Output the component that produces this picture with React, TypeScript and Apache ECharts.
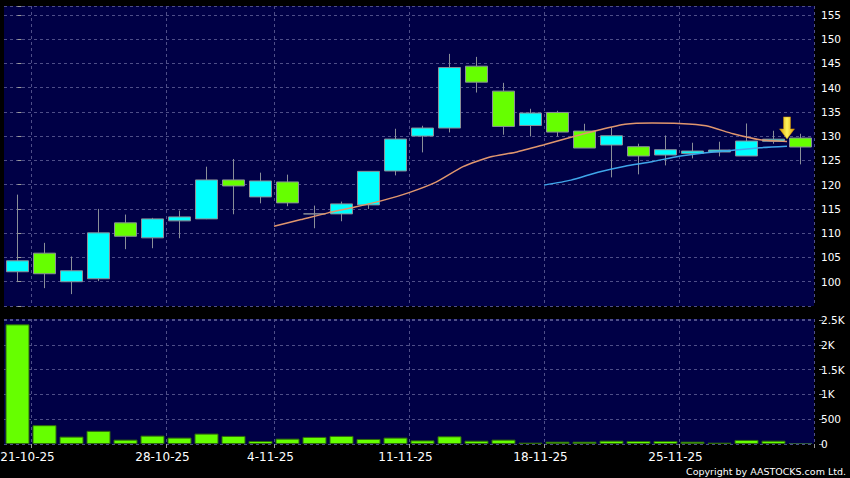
import React, { useEffect, useRef } from "react";
import * as echarts from "echarts";

const dates = [
  "20-10-25", "21-10-25", "22-10-25", "23-10-25", "24-10-25",
  "27-10-25", "28-10-25", "30-10-25", "31-10-25", "3-11-25",
  "4-11-25", "5-11-25", "6-11-25", "7-11-25", "10-11-25",
  "11-11-25", "12-11-25", "13-11-25", "14-11-25", "17-11-25",
  "18-11-25", "19-11-25", "20-11-25", "21-11-25", "24-11-25",
  "25-11-25", "26-11-25", "27-11-25", "28-11-25", "1-12-25",
];
const labeledDates = ["21-10-25", "28-10-25", "4-11-25", "11-11-25", "18-11-25", "25-11-25"];

const opens = [102.06, 105.89, 100.0, 100.62, 112.14, 109.05, 112.55, 112.96, 120.99, 117.49,
  120.58, 113.99, 113.99, 115.84, 122.84, 130.04, 131.69, 144.44, 139.3, 132.22,
  134.9, 131.07, 128.19, 127.84, 126.13, 126.46, 126.75, 125.93, 128.95, 129.63];
const closes = [104.32, 101.65, 102.26, 110.08, 109.38, 112.96, 113.37, 120.99, 119.75, 120.78,
  116.26, 113.99, 116.05, 122.76, 129.42, 131.69, 144.16, 141.15, 132.02, 134.77,
  130.86, 127.57, 130.1, 125.93, 127.22, 126.95, 127.16, 129.01, 129.4, 127.78];
const lows = [99.92, 98.68, 97.45, 100.12, 106.71, 106.91, 108.97, 112.9, 113.91, 116.17,
  115.56, 111.03, 112.47, 115.02, 121.93, 126.67, 130.78, 139.01, 130.31, 129.96,
  129.96, 127.57, 121.52, 122.14, 123.99, 125.43, 125.84, 125.93, 128.46, 124.2];
const highs = [117.96, 108.02, 105.21, 115.02, 113.85, 113.17, 114.67, 123.72, 125.31, 122.49,
  122.08, 115.7, 116.52, 122.76, 131.54, 132.16, 146.98, 146.36, 141.01, 135.66,
  135.25, 132.57, 131.81, 128.46, 130.16, 128.66, 128.87, 132.63, 131.13, 130.51];

const volumes = [2412, 379, 149, 265, 88, 169, 129, 210, 163, 61,
  108, 143, 163, 102, 129, 73, 155, 67, 88, 27,
  47, 47, 67, 61, 61, 47, 27, 82, 67, 20];

// moving averages, plotted at the right edge of each day
const ma10Start = 9;
const ma10 = [111.44, 112.82, 114.2, 115.39, 116.73, 118.37, 120.53, 123.72, 125.72, 126.77,
  128.25, 129.79, 131.23, 132.47, 132.72, 132.63, 132.16, 130.51, 129.28, 128.93];
const ma20Start = 19;
const ma20 = [119.92, 120.95, 122.59, 123.83, 124.75, 125.88, 126.6, 127.12, 127.63, 127.94];

const arrowDay = 28;
const arrowValue = 129.45;

const priceMin = 95;
const priceMax = 156.85;
const priceStep = 5;
const volumeMax = 2520;
const volumeStep = 500;

const gridLine = { color: "#4e4e88", type: [3, 3] as any, width: 1 };
const isLabeled = (_i: number, v: string) => labeledDates.includes(v);

export default function App() {
  const ref = useRef<HTMLDivElement>(null);
  useEffect(() => {
    if (!ref.current) return;
    const chart = echarts.init(ref.current, undefined, { renderer: "svg" });
    const candles = opens.map((o, i) => [o, closes[i], lows[i], highs[i]]);
    const ma10Data = ma10.map((v, i) => [ma10Start + i + 0.5, v]);
    const ma20Data = ma20.map((v, i) => [ma20Start + i + 0.5, v]);
    const volData = volumes.map((v, i) =>
      i === volumes.length - 1
        ? { value: v, itemStyle: { color: "#2f5a44", borderColor: "#2f5a44" } }
        : v
    );
    const labelFont = { color: "#ffffff", fontFamily: "DejaVu Sans", fontSize: 10.5 };
    chart.setOption({
      animation: false,
      backgroundColor: "#000000",
      grid: [
        {
          left: 4, width: 810, top: 6, height: 300, show: true, backgroundColor: "#000046", borderWidth: 0,
          outerBoundsMode: "none",
        },
        {
          left: 4, width: 810, top: 319, height: 125, show: true, backgroundColor: "#000046", borderWidth: 0,
          outerBoundsMode: "none",
        },
      ],
      xAxis: [
        {
          type: "category", gridIndex: 0, data: dates, boundaryGap: true,
          axisLine: { show: false }, axisTick: { show: false }, axisLabel: { show: false },
          splitLine: { show: true, interval: isLabeled, lineStyle: gridLine },
        },
        {
          type: "category", gridIndex: 1, data: dates, boundaryGap: true,
          axisLine: { show: false },
          axisTick: { show: true, interval: isLabeled, length: 4, lineStyle: { color: "#9a9a9a" } },
          axisLabel: {
            interval: isLabeled, color: "#ffffff", fontFamily: "DejaVu Sans", fontSize: 12,
            margin: 7, padding: [0, 34, 0, 0],
          },
          splitLine: { show: true, interval: isLabeled, lineStyle: gridLine },
        },
        { type: "value", gridIndex: 0, min: -0.5, max: 29.5, show: false },
      ],
      yAxis: [
        {
          type: "value", gridIndex: 0, position: "right", offset: 5,
          min: priceMin, max: priceMax, interval: priceStep,
          axisLine: { show: false },
          axisTick: { show: true, length: 4, lineStyle: { color: "#9a9a9a" } },
          axisLabel: {
            ...labelFont, margin: 2,
            formatter: (v: number) => (v > priceMin && v < priceMax ? String(v) : ""),
          },
          splitLine: { show: true, lineStyle: gridLine },
        },
        {
          type: "value", gridIndex: 1, position: "right", offset: 5,
          min: 0, max: volumeMax, interval: volumeStep,
          axisLine: { show: false },
          axisTick: { show: true, length: 4, lineStyle: { color: "#9a9a9a" } },
          axisLabel: {
            ...labelFont, margin: 2,
            formatter: (v: number) => (v >= 1000 ? v / 1000 + "K" : String(v)),
          },
          splitLine: { show: true, lineStyle: gridLine },
        },
      ],
      series: [
        {
          type: "candlestick", xAxisIndex: 0, yAxisIndex: 0, data: candles, barWidth: 23,
          itemStyle: {
            color: "#00ffff", color0: "#66ff00",
            borderColor: "#8a8f98", borderColor0: "#8a8f98", borderColorDoji: "#8a8f98", borderWidth: 1,
          },
        },
        {
          type: "line", xAxisIndex: 2, yAxisIndex: 0, data: ma10Data, symbol: "none", smooth: 0.2,
          lineStyle: { color: "#e0966e", width: 1.5 },
        },
        {
          type: "line", xAxisIndex: 2, yAxisIndex: 0, data: ma20Data, symbol: "none", smooth: 0.2,
          lineStyle: { color: "#3fa6ea", width: 1.5 },
          markPoint: {
            symbol: "path://M4,0 L11,0 L11,12 L15,12 L7.5,22 L0,12 L4,12 Z",
            symbolSize: [15, 22],
            symbolOffset: [0, "-50%"],
            label: { show: false },
            itemStyle: {
              color: {
                type: "linear", x: 0, y: 0, x2: 1, y2: 0,
                colorStops: [
                  { offset: 0, color: "#d99a00" },
                  { offset: 0.5, color: "#fff45c" },
                  { offset: 1, color: "#d99a00" },
                ],
              },
              borderColor: "#c88a00", borderWidth: 0.5,
            },
            data: [{ coord: [arrowDay + 0.5, arrowValue] }],
          },
        },
        {
          type: "bar", xAxisIndex: 1, yAxisIndex: 1, data: volData, barWidth: 24,
          itemStyle: { color: "#66ff00", borderColor: "#2e6a0c", borderWidth: 1 },
        },
      ],
      graphic: [
        {
          type: "text", right: 4, top: 466,
          style: { text: "Copyright by AASTOCKS.com Ltd.", fill: "#ffffff", font: "9.5px 'DejaVu Sans'" },
        },
      ],
    });
    return () => chart.dispose();
  }, []);
  return <div ref={ref} style={{ position: "fixed", left: 0, top: 0, width: 850, height: 478 }} />;
}
